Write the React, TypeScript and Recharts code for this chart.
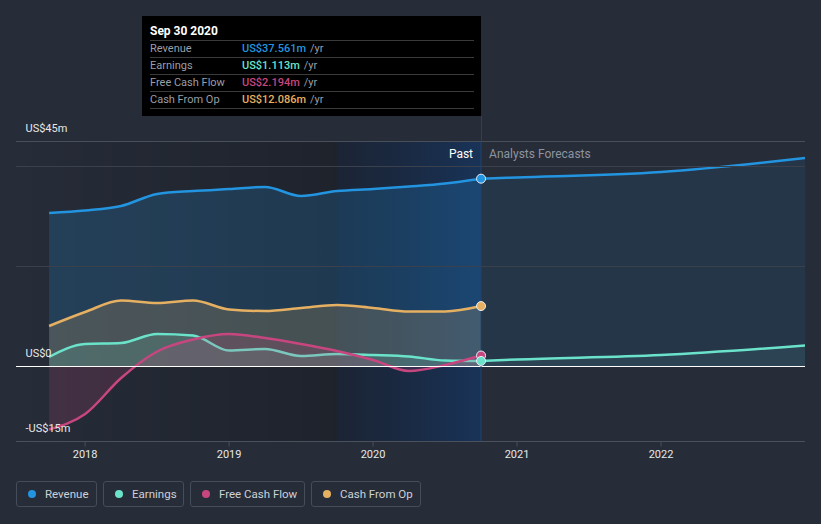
import React from 'react';
import {
  ComposedChart,
  Area,
  XAxis,
  YAxis,
  ReferenceLine,
  ReferenceArea,
} from 'recharts';

// ---- data ----
const pastDates = [2017.75, 2018.0, 2018.25, 2018.5, 2018.75, 2019.0, 2019.25, 2019.5, 2019.75, 2020.0, 2020.25, 2020.5, 2020.75];
const revenuePast = [30.7, 31.2, 32.1, 34.5, 35.1, 35.5, 35.9, 34.1, 35.1, 35.5, 36.0, 36.6, 37.561];
const earningsPast = [1.9, 4.5, 4.7, 6.5, 6.2, 3.2, 3.5, 2.1, 2.5, 2.3, 2.0, 1.2, 1.113];
const fcfPast = [-12.6, -9.5, -2.3, 3.0, 5.4, 6.5, 5.7, 4.5, 3.1, 1.3, -0.9, 0.3, 2.194];
const cfoPast = [8.1, 10.9, 13.2, 12.7, 13.2, 11.4, 11.1, 11.7, 12.3, 11.7, 11.0, 11.0, 12.086];

const forecastDates = [2021.0, 2022.0, 2023.0];
const revenueForecast = [37.8, 38.9, 41.7];
const earningsForecast = [1.4, 2.3, 4.2];

const xTicks = [2018, 2019, 2020, 2021, 2022];
const xDomain = [2017.52, 2023.0];
const yDomain = [-15, 45];
const gridValues = [40, 20];
const pastStart = 2019.75;
const pastEnd = 2020.75;

const series = [
  { name: 'Revenue', color: '#2394df', value: 'US$37.561m' },
  { name: 'Earnings', color: '#6be3cb', value: 'US$1.113m' },
  { name: 'Free Cash Flow', color: '#c8467f', value: 'US$2.194m' },
  { name: 'Cash From Op', color: '#e6b062', value: 'US$12.086m' },
];
const tooltipDate = 'Sep 30 2020';

// table for the chart
const data: any[] = pastDates.map((x, i) => ({
  x,
  rev: revenuePast[i],
  earn: earningsPast[i],
  fcf: fcfPast[i],
  cfo: cfoPast[i],
}));
data[data.length - 1].revF = revenuePast[revenuePast.length - 1];
data[data.length - 1].earnF = earningsPast[earningsPast.length - 1];
forecastDates.forEach((x, i) => {
  data.push({ x, revF: revenueForecast[i], earnF: earningsForecast[i] });
});

const BG = '#262c38';
const FONT = 'Roboto, "Noto Sans", Arial, sans-serif';

const makeDot = (color: string) => (props: any) => {
  const { cx, cy, payload, key } = props;
  if (payload && payload.x === pastEnd && cx != null && cy != null) {
    return <circle key={key} cx={cx} cy={cy} r={4.5} fill={color} stroke="#e8eef5" strokeWidth={1} />;
  }
  return <g key={key} />;
};

const PastLabel = (props: any) => {
  const vb = props.viewBox || {};
  const x = vb.x ?? 0;
  const y = (vb.y ?? 0) + 16;
  return (
    <g>
      <text x={x - 8} y={y} textAnchor="end" fill="#ffffff" fontSize={12} fontFamily={FONT}>Past</text>
      <text x={x + 8} y={y} textAnchor="start" fill="#8e949e" fontSize={12} fontFamily={FONT}>Analysts Forecasts</text>
    </g>
  );
};

const yLabel = (text: string) => ({
  value: text,
  position: 'insideBottomLeft' as const,
  offset: 9.5,
  fill: '#e8e8e8',
  fontSize: 11,
  fontFamily: FONT,
});

export default function App() {
  return (
    <div style={{ position: 'absolute', left: 0, top: 0, width: 821, height: 524, background: BG, fontFamily: FONT, overflow: 'hidden' }}>
      <ComposedChart
        width={821}
        height={524}
        data={data}
        margin={{ top: 141.5, right: 16, bottom: 52.5, left: 16 }}
      >
        <defs>
          <linearGradient id="darkBand" x1="0" y1="0" x2="1" y2="0">
            <stop offset="0%" stopColor="#000000" stopOpacity={0.0} />
            <stop offset="100%" stopColor="#000000" stopOpacity={0.22} />
          </linearGradient>
          <linearGradient id="blueBand" x1="0" y1="0" x2="1" y2="0">
            <stop offset="0%" stopColor="#08162e" stopOpacity={0.35} />
            <stop offset="100%" stopColor="#0b3a78" stopOpacity={0.5} />
          </linearGradient>
        </defs>
        <XAxis
          dataKey="x"
          type="number"
          domain={xDomain}
          ticks={xTicks}
          allowDataOverflow
          tickFormatter={(v: number) => String(v)}
          axisLine={{ stroke: '#4a505c' }}
          tickLine={{ stroke: '#4a505c' }}
          tickSize={5}
          tickMargin={4}
          tick={{ fill: '#e8e8e8', fontSize: 11, fontFamily: FONT }}
          height={30}
        />
        <YAxis type="number" domain={yDomain} hide allowDataOverflow />
        <ReferenceArea x1={xDomain[0]} x2={pastStart} y1={yDomain[0]} y2={yDomain[1]} fill="url(#darkBand)" fillOpacity={1} stroke="none" ifOverflow="visible" />
        <ReferenceArea x1={pastStart} x2={pastEnd} y1={yDomain[0]} y2={yDomain[1]} fill="url(#blueBand)" fillOpacity={1} stroke="none" ifOverflow="visible" />
        <ReferenceLine y={yDomain[1]} stroke="#484e5a" strokeWidth={1} label={yLabel('US$45m')} ifOverflow="visible" />
        {gridValues.map((v) => (
          <ReferenceLine key={v} y={v} stroke="#3a404c" strokeWidth={1} />
        ))}
        <ReferenceLine y={yDomain[0]} stroke="none" label={yLabel('-US$15m')} ifOverflow="visible" />

        <Area type="monotone" dataKey="rev" stroke={series[0].color} strokeWidth={2.5} fill={series[0].color} fillOpacity={0.2} isAnimationActive={false} dot={makeDot(series[0].color)} activeDot={false} />
        <Area type="monotone" dataKey="revF" stroke={series[0].color} strokeWidth={2.5} fill={series[0].color} fillOpacity={0.1} isAnimationActive={false} dot={false} activeDot={false} />
        <Area type="monotone" dataKey="cfo" stroke={series[3].color} strokeWidth={2.5} fill={series[3].color} fillOpacity={0.2} isAnimationActive={false} dot={makeDot(series[3].color)} activeDot={false} />
        <Area type="monotone" dataKey="earn" stroke={series[1].color} strokeWidth={2.5} fill={series[1].color} fillOpacity={0.15} isAnimationActive={false} dot={false} activeDot={false} />
        <Area type="monotone" dataKey="earnF" stroke={series[1].color} strokeWidth={2.5} fill={series[1].color} fillOpacity={0.08} isAnimationActive={false} dot={false} activeDot={false} />
        <Area type="monotone" dataKey="fcf" stroke={series[2].color} strokeWidth={2.5} fill={series[2].color} fillOpacity={0.18} isAnimationActive={false} dot={makeDot(series[2].color)} activeDot={false} />
        <Area type="monotone" dataKey="earn" stroke="none" fill="none" isAnimationActive={false} dot={makeDot(series[1].color)} activeDot={false} />

        <ReferenceLine y={0} stroke="#ffffff" strokeWidth={1} label={yLabel('US$0')} />
        <ReferenceLine x={pastEnd} stroke="#24436b" strokeWidth={1} label={<PastLabel />} />
      </ComposedChart>

      {/* connector from tooltip to the chart */}
      <div style={{ position: 'absolute', left: 481, top: 116, width: 1, height: 25, background: '#24436b' }} />

      {/* tooltip */}
      <div style={{ position: 'absolute', left: 142, top: 16, width: 339, height: 100, background: '#000000', boxSizing: 'border-box', padding: '0 7px 0 8px' }}>
        <div style={{ height: 25, lineHeight: '30px', color: '#ffffff', fontSize: 12, fontWeight: 700, borderBottom: '1px solid #3a3a3a', boxSizing: 'border-box' }}>{tooltipDate}</div>
        {series.map((s) => (
          <div key={s.name} style={{ height: 17, lineHeight: '16px', display: 'flex', fontSize: 11, borderBottom: '1px solid #3a3a3a', boxSizing: 'border-box' }}>
            <span style={{ width: 92, color: '#9a9ea6' }}>{s.name}</span>
            <span style={{ color: s.color, fontWeight: 500 }}>{s.value}</span>
            <span style={{ color: '#9a9ea6', marginLeft: 4 }}>/yr</span>
          </div>
        ))}
      </div>

      {/* legend */}
      <div style={{ position: 'absolute', left: 16, top: 481, display: 'flex', gap: 6 }}>
        {series.map((s, i) => (
          <div key={s.name} style={{ width: [81, 81, 115, 110][i], height: 26, boxSizing: 'border-box', border: '1px solid #454c5a', borderRadius: 3, display: 'flex', alignItems: 'center', paddingLeft: 11, fontSize: 11.5, color: '#cdd1d8' }}>
            <span style={{ width: 8, height: 8, borderRadius: 4, background: s.color, marginRight: 9, flex: 'none' }} />
            <span>{s.name}</span>
          </div>
        ))}
      </div>
    </div>
  );
}
